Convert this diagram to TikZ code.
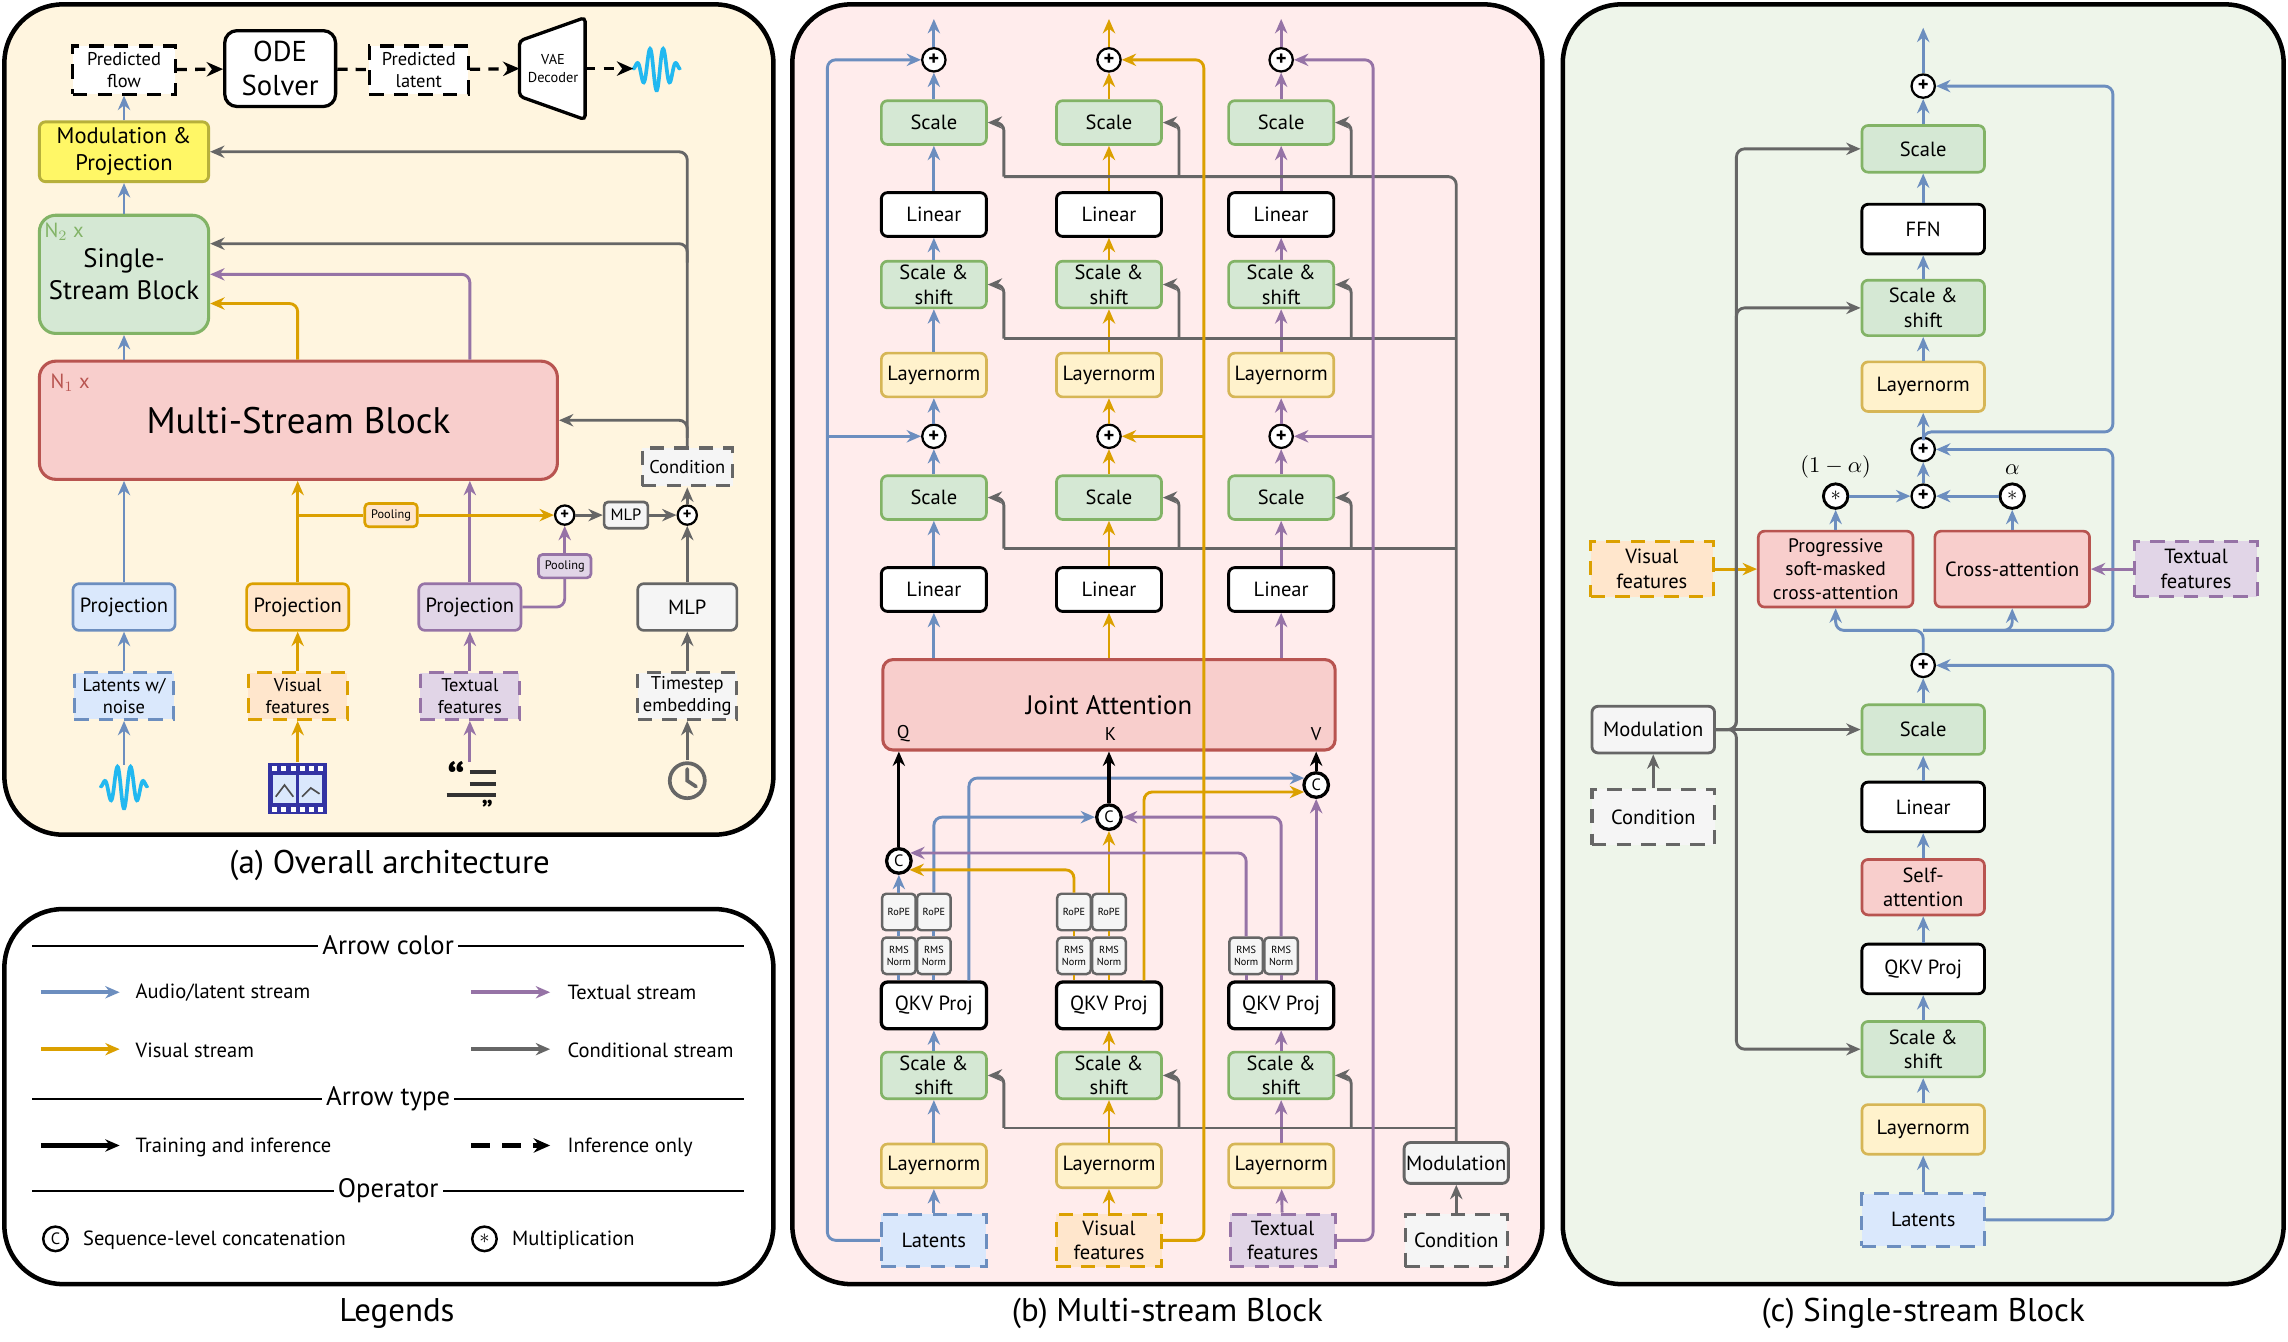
\documentclass[tikz,border=0pt]{standalone}
\usepackage{fontspec}
\setmainfont{PT Sans}
\usetikzlibrary{arrows.meta,calc}
\newcommand\myfs[1]{\fontsize{#1}{\dimexpr #1pt*6/5\relax}\selectfont}
\definecolor{cb}{HTML}{6C8EBF}\definecolor{cbf}{HTML}{DAE8FC}
\definecolor{co}{HTML}{DBA000}\definecolor{cof}{HTML}{FFE6CC}
\definecolor{cp}{HTML}{9673A6}\definecolor{cpf}{HTML}{E1D5E7}
\definecolor{cg}{HTML}{666666}\definecolor{cgf}{HTML}{F5F5F5}
\definecolor{cgr}{HTML}{82B366}\definecolor{cgrf}{HTML}{D5E8D4}
\definecolor{cr}{HTML}{B85450}\definecolor{crf}{HTML}{F8CECC}
\definecolor{cy}{HTML}{D6B656}\definecolor{cyf}{HTML}{FFF2CC}
\definecolor{bgA}{HTML}{FFF5DF}\definecolor{bgB}{HTML}{FFECEC}\definecolor{bgC}{HTML}{EEF5EA}
\definecolor{wavec}{HTML}{22B8F0}
\tikzset{
 box/.style={rounded corners=3pt, line width=1.3pt, align=center, inner sep=1pt, font=\myfs{10}},
 sz/.style 2 args={minimum width=#1*0.025cm, minimum height=#2*0.025cm},
 gb/.style={box, draw=cgr, fill=cgrf},
 wb/.style={box, draw=black, fill=white, line width=1.4pt},
 yb/.style={box, draw=cy, fill=cyf},
 rb/.style={box, draw=cr, fill=crf},
 gyb/.style={box, draw=cg, fill=cgf},
 bb/.style={box, draw=cb, fill=cbf},
 ob/.style={box, draw=co, fill=cof},
 pb/.style={box, draw=cp, fill=cpf},
 dsh/.style={dash pattern=on 7pt off 5pt, line width=1.5pt},
 ar/.style={-{Stealth[length=7pt,width=6pt]}, line width=1.4pt, rounded corners=4pt},
 ln/.style={line width=1.4pt, rounded corners=4pt},
 dar/.style={-{Stealth[length=8pt,width=7pt]}, line width=1.6pt, dash pattern=on 5pt off 4pt},
 pl/.style={circle, draw, line width=1.1pt, fill=white, inner sep=0pt, minimum size=0.4cm, font=\myfs{10}\bfseries},
 cc/.style={circle, draw, line width=1.6pt, fill=white, inner sep=0pt, minimum size=0.42cm, font=\myfs{8}},
 tiny/.style={gyb, sz={23}{25}, font=\myfs{5}, rounded corners=2pt, inner sep=0pt, line width=1.2pt},
 panel/.style={line width=2.2pt, rounded corners=1cm},
 ttl/.style={fill=white, font=\myfs{13}, inner sep=2pt},
 lg/.style={anchor=west, font=\myfs{10}},
}
\begin{document}
\begin{tikzpicture}[x=0.025cm,y=-0.025cm]
\useasboundingbox (0,0) rectangle (1568,919.6);
% panels
\draw[panel, fill=bgA] (3,3) rectangle (530,572);
\draw[panel, fill=white] (3,623) rectangle (530,880);
\draw[panel, fill=bgB] (543,3) rectangle (1057,880);
\draw[panel, fill=bgC] (1071,3) rectangle (1565,880);
\node[font=\myfs{16}] (capa) at (267,593) {(a) Overall architecture};
\node[font=\myfs{16}] (capl) at (272,900) {Legends};
\node[font=\myfs{16}] (capb) at (800,900) {(b) Multi-stream Block};
\node[font=\myfs{16}] (capc) at (1318,900) {(c) Single-stream Block};

% ================= (a)
\node[box, dsh, draw=black, fill=white, rounded corners=0pt, sz={70}{33}, font=\myfs{9}] (pf) at (85,48) {Predicted\\flow};
\node[wb, sz={76}{52}, font=\myfs{14}, line width=1.6pt, rounded corners=6pt] (ode) at (192,47) {ODE\\Solver};
\node[box, dsh, draw=black, fill=white, rounded corners=0pt, sz={68}{33}, font=\myfs{9}] (pla) at (287,48) {Predicted\\latent};
\draw[line width=1.6pt, fill=white, rounded corners=2pt] (356,28) -- (401,12) -- (401,82) -- (356,66) -- cycle;
\node[font=\myfs{7}, align=center] (vae) at (379,47) {VAE\\Decoder};
\coordinate (vaeL) at (356,47); \coordinate (vaeR) at (401,47); \coordinate (wv) at (434,47);
\draw[wavec, line width=1.8pt, line cap=round] plot[domain=0:1, samples=90, smooth] ({450-16+32*\x}, {47-15*sin(\x*1260)*sin(\x*180)});
\draw[dar] (pf) -- (ode);
\draw[line width=1.6pt, dash pattern=on 5pt off 4pt] (ode) -- (pla);
\draw[dar] (pla) -- (vaeL);
\draw[dar] (vaeR) -- (wv);

\node[box, draw=black!15!yellow!80!black, fill=yellow!60, line width=1.4pt, sz={116}{41}, font=\myfs{11}] (mp) at (85,104) {Modulation \&\\Projection};
\node[gb, sz={116}{81}, font=\myfs{13}, rounded corners=8pt, line width=1.5pt] (ss) at (85,188) {Single-\\Stream Block};
\node[text=cgr, font=\myfs{10}] (n2) at (44,159) {N$_2$ x};
\node[rb, sz={355}{81}, font=\myfs{18}, rounded corners=8pt, line width=1.5pt] (ms) at (204.5,288) {Multi-Stream Block};
\node[text=cr, font=\myfs{10}] (n1) at (48,262) {N$_1$ x};
\node[gyb, dsh, rounded corners=0pt, sz={62}{26}, font=\myfs{9}] (cond) at (471,320) {Condition};
\node[bb, sz={70}{32}] (pj1) at (85,416) {Projection};
\node[ob, sz={70}{32}] (pj2) at (204,416) {Projection};
\node[pb, sz={70}{32}] (pj3) at (322,416) {Projection};
\node[gyb, sz={68}{32}] (mlp1) at (471,416) {MLP};
\node[bb, dsh, rounded corners=0pt, sz={68}{32}, font=\myfs{9}] (in1) at (85,477) {Latents w/\\noise};
\node[ob, dsh, rounded corners=0pt, sz={68}{32}, font=\myfs{9}] (in2) at (204,477) {Visual\\features};
\node[pb, dsh, rounded corners=0pt, sz={68}{32}, font=\myfs{9}] (in3) at (322,477) {Textual\\features};
\node[gyb, dsh, rounded corners=0pt, sz={68}{32}, font=\myfs{9}] (in4) at (471,477) {Timestep\\embedding};
\node[ob, sz={36}{16}, font=\myfs{6}, rounded corners=2pt] (pool1) at (268,353) {Pooling};
\node[pb, sz={36}{16}, font=\myfs{6}, rounded corners=2pt] (pool2) at (387,388) {Pooling};
\node[pl, minimum size=0.33cm, font=\myfs{8}\bfseries] (pA) at (387,353) {+};
\node[gyb, sz={30}{18}, font=\myfs{8}, rounded corners=2pt] (mlp2) at (429,353) {MLP};
\node[pl, minimum size=0.33cm, font=\myfs{8}\bfseries] (pB) at (471,353) {+};
% icons
\coordinate (ic1) at (85,524); \coordinate (ic2) at (204,522); \coordinate (ic3) at (322,522); \coordinate (ic4) at (471,521);
\draw[wavec, line width=1.8pt, line cap=round] plot[domain=0:1, samples=90, smooth] ({85-16+32*\x}, {539-15*sin(\x*1260)*sin(\x*180)});
\fill[blue!55!black!80] (184,523) rectangle (224,558);
\foreach \i in {0,...,5}{\fill[white] (186.5+\i*6.3,525) rectangle ++(3.5,3.5); \fill[white] (186.5+\i*6.3,553) rectangle ++(3.5,3.5);}
\fill[cbf] (187,531) rectangle (203,550); \fill[cbf] (205,531) rectangle (221,550);
\draw[black!70, line width=0.8pt] (189,546) -- (195,538) -- (201,546) (207,546) -- (213,540) -- (219,544);
\node[font=\myfs{22}\bfseries, inner sep=0pt] (qt) at (313,534) {“};
\draw[black!80, line width=2pt] (322,529) -- (340,529) (322,537) -- (340,537) (306,545) -- (340,545);
\node[font=\myfs{14}\bfseries, inner sep=0pt] (qt2) at (334,555) {”};
\draw[cg, line width=1.8pt] (471,535) circle (0.3cm);
\draw[cg, line width=1.8pt, line cap=round] (471,527) -- (471,535) -- (477,539);
% arrows (a)
\draw[ar,cb] (mp) -- (pf);
\draw[ar,cb] (ss) -- (mp);
\draw[ar,cb] (ss |- ms.north) -- (ss);
\draw[ar,co] (pj2 |- ms.north) |- ($(ss.east)+(0,20)$);
\draw[ar,cp] (pj3 |- ms.north) |- (ss.east);
\draw[ar,cg] (cond) |- (mp.east);
\draw[ar,cg] (471,180) |- ($(ss.east)+(0,-21)$);
\draw[ar,cg] (471,300) |- (ms.east);
\draw[ar,cb] (pj1) -- (pj1 |- ms.south);
\draw[ar,co] (pj2) -- (pj2 |- ms.south);
\draw[ar,cp] (pj3) -- (pj3 |- ms.south);
\draw[ln,co] (pj2 |- pool1) -- (pool1);
\draw[ar,co] (pool1) -- (pA);
\draw[ln,cp] (pj3.east) -| (pool2);
\draw[ar,cp] (pool2) -- (pA);
\draw[ar,cg] (pA) -- (mlp2);
\draw[ar,cg] (mlp2) -- (pB);
\draw[ar,cg] (mlp1) -- (pB);
\draw[ar,cg] (pB) -- (cond);
\draw[ar,cb] (in1) -- (pj1);
\draw[ar,co] (in2) -- (pj2);
\draw[ar,cp] (in3) -- (pj3);
\draw[ar,cg] (in4) -- (mlp1);
\draw[ar,cb] (ic1) -- (in1);
\draw[ar,co] (ic2) -- (in2);
\draw[ar,cp] (ic3) -- (in3);
\draw[ar,cg] (ic4) -- (in4);

% ================= legend
\foreach \yy/\tt in {648/Arrow color, 753/Arrow type, 816/Operator}{
 \draw[line width=1pt] (22,\yy) -- (510,\yy);
 \node[ttl] at (266,\yy) {\tt};}
\coordinate (la1) at (28,680); \coordinate (lb1) at (82,680);
\draw[ar,cb,line width=2pt] (la1) -- (lb1); \node[lg] at (88,680) {Audio/latent stream};
\coordinate (la2) at (323,680); \coordinate (lb2) at (377,680);
\draw[ar,cp,line width=2pt] (la2) -- (lb2); \node[lg] at (384,680) {Textual stream};
\coordinate (la3) at (28,719); \coordinate (lb3) at (82,719);
\draw[ar,co,line width=2pt] (la3) -- (lb3); \node[lg] at (88,720) {Visual stream};
\coordinate (la4) at (323,719); \coordinate (lb4) at (377,719);
\draw[ar,cg,line width=2pt] (la4) -- (lb4); \node[lg] at (384,720) {Conditional stream};
\coordinate (la5) at (28,785); \coordinate (lb5) at (82,785);
\draw[ar,black,line width=2pt] (la5) -- (lb5); \node[lg] at (88,786) {Training and inference};
\coordinate (la6) at (323,785); \coordinate (lb6) at (377,785);
\draw[dar,line width=2pt, dash pattern=on 9pt off 6pt] (la6) -- (lb6); \node[lg] at (384,786) {Inference only};
\node[cc, line width=1.2pt] (lc) at (38,849) {C}; \node[lg] at (52,850) {Sequence-level concatenation};
\node[cc, line width=1.2pt, font=\myfs{10}] (lm) at (332,849) {$\ast$}; \node[lg] at (346,850) {Multiplication};

% ================= (b)
\foreach \n/\x/\cl in {a/640/cb, b/760/co, c/878/cp}{
 \node[pl] (t\n) at (\x,41) {+};
 \node[gb, sz={72}{30}] (sA\n) at (\x,84) {Scale};
 \node[wb, sz={72}{30}] (lA\n) at (\x,147) {Linear};
 \node[gb, sz={72}{32}] (hA\n) at (\x,195) {Scale \&\\shift};
 \node[yb, sz={72}{30}] (nA\n) at (\x,257) {Layernorm};
 \node[pl] (p\n) at (\x,299) {+};
 \node[gb, sz={72}{30}] (sB\n) at (\x,341) {Scale};
 \node[wb, sz={72}{30}] (lB\n) at (\x,404) {Linear};
 \node[wb, sz={72}{32}, line width=1.6pt] (q\n) at (\x,689) {QKV Proj};
 \node[gb, sz={72}{32}] (hB\n) at (\x,737) {Scale \&\\shift};
 \node[yb, sz={72}{30}] (nB\n) at (\x,799) {Layernorm};
 \draw[ar,color=\cl] (nB\n) -- (hB\n);
 \draw[ar,color=\cl] (hB\n) -- (q\n);
 \draw[ar,color=\cl] (lB\n) -- (sB\n);
 \draw[ar,color=\cl] (sB\n) -- (p\n);
 \draw[ar,color=\cl] (p\n) -- (nA\n);
 \draw[ar,color=\cl] (nA\n) -- (hA\n);
 \draw[ar,color=\cl] (hA\n) -- (lA\n);
 \draw[ar,color=\cl] (lA\n) -- (sA\n);
 \draw[ar,color=\cl] (sA\n) -- (t\n);
 \draw[ar,color=\cl] (t\n) -- ++(0,-28);
 \draw[ar,cg] (\x+48,121) |- (sA\n);
 \draw[ar,cg] (\x+48,232) |- (hA\n);
 \draw[ar,cg] (\x+48,376) |- (sB\n);
 \draw[ar,cg] (\x+48,773) |- (hB\n);
}
\node[rb, sz={310}{62}, font=\myfs{13}, line width=1.5pt, rounded corners=5pt] (ja) at (760,483) {Joint Attention};
\node[font=\myfs{9}] (jq) at (619,503) {Q};
\node[font=\myfs{9}] (jk) at (761,503) {K};
\node[font=\myfs{9}] (jv) at (902,503) {V};
\draw[ar,cb] (lBa |- ja.north) -- (lBa);
\draw[ar,co] (lBb |- ja.north) -- (lBb);
\draw[ar,cp] (lBc |- ja.north) -- (lBc);
\node[bb, dsh, rounded corners=0pt, sz={72}{36}] (lat) at (640,850) {Latents};
\node[ob, dsh, rounded corners=0pt, sz={72}{36}] (vis) at (760,850) {Visual\\features};
\node[pb, dsh, rounded corners=0pt, sz={72}{36}] (txt) at (879,850) {Textual\\features};
\node[gyb, dsh, rounded corners=0pt, sz={70}{36}] (cnd) at (998,850) {Condition};
\node[gyb, sz={71}{28}, line width=1.4pt] (mod) at (998,797) {Modulation};
\draw[ar,cb] (lat) -- (nBa);
\draw[ar,co] (vis) -- (nBb);
\draw[ar,cp] (txt) -- (nBc);
\draw[ar,cg] (cnd) -- (mod);
\draw[ln,cg] (mod.north) -- (998,121) -- (688,121);
\draw[ln,cg] (998,232) -- (688,232);
\draw[ln,cg] (998,376) -- (688,376);
\draw[ln,cg] (998,773) -- (688,773);
% rms / rope
\node[tiny] (rma1) at (616,655) {RMS\\Norm};
\node[tiny] (rma2) at (640,655) {RMS\\Norm};
\node[tiny] (rpa1) at (616,625) {RoPE};
\node[tiny] (rpa2) at (640,625) {RoPE};
\node[tiny] (rmb1) at (736,655) {RMS\\Norm};
\node[tiny] (rmb2) at (760,655) {RMS\\Norm};
\node[tiny] (rpb1) at (736,625) {RoPE};
\node[tiny] (rpb2) at (760,625) {RoPE};
\node[tiny] (rmc1) at (854,655) {RMS\\Norm};
\node[tiny] (rmc2) at (878,655) {RMS\\Norm};
\node[cc] (cq) at (616,590) {C};
\node[cc] (ck) at (760,560) {C};
\node[cc] (cv) at (902,538) {C};
\draw[ln,cb] (qa.north -| rma1) -- (rma1); \draw[ln,cb] (rma1) -- (rpa1);
\draw[ln,cb] (qa.north -| rma2) -- (rma2); \draw[ln,cb] (rma2) -- (rpa2);
\draw[ln,co] (qb.north -| rmb1) -- (rmb1); \draw[ln,co] (rmb1) -- (rpb1);
\draw[ln,co] (qb.north -| rmb2) -- (rmb2); \draw[ln,co] (rmb2) -- (rpb2);
\draw[ln,cp] (qc.north -| rmc1) -- (rmc1);
\draw[ln,cp] (qc.north -| rmc2) -- (rmc2);
\draw[ar,cb] (rpa1) -- (cq);
\draw[ar,cb] (rpa2.north) |- (ck.west);
\draw[ar,cb] ($(qa.north)+(24,0)$) |- (cv.150);
\draw[ar,co] (rpb1.north) |- (cq.-40);
\draw[ar,co] (rpb2) -- (ck);
\draw[ar,co] ($(qb.north)+(24,0)$) |- (cv.210);
\draw[ar,cp] (rmc1.north) |- (cq.35);
\draw[ar,cp] (rmc2.north) |- (ck.east);
\draw[ar,cp] ($(qc.north)+(24,0)$) -- (cv.south);
\draw[ar,black,line width=1.5pt] (cq) -- (cq |- ja.south);
\draw[ar,black,line width=1.5pt] (ck) -- (ck |- ja.south);
\draw[ar,black,line width=1.5pt] (cv) -- (cv |- ja.south);
% residuals
\draw[ar,cb] (lat.west) -- (567,850) -- (567,41) -- (ta);
\draw[ar,cb] (567,299) -- (pa);
\draw[ar,co] (vis.east) -- (825,850) -- (825,41) -- (tb);
\draw[ar,co] (825,299) -- (pb);
\draw[ar,cp] (txt.east) -- (941,850) -- (941,41) -- (tc);
\draw[ar,cp] (941,299) -- (pc);

% ================= (c)
\node[pl] (ct) at (1318,59) {+};
\node[gb, sz={84}{32}] (cs1) at (1318,102) {Scale};
\node[wb, sz={84}{34}] (cffn) at (1318,157) {FFN};
\node[gb, sz={84}{38}] (css1) at (1318,211) {Scale \&\\shift};
\node[yb, sz={84}{34}] (cln1) at (1318,265) {Layernorm};
\node[pl] (cp1) at (1318,308) {+};
\node[pl] (cp2) at (1318,340) {+};
\node[cc, line width=1.4pt, font=\myfs{10}] (m1) at (1258,340) {$\ast$};
\node[cc, line width=1.4pt, font=\myfs{10}] (m2) at (1379,340) {$\ast$};
\node[font=\myfs{11}] (al1) at (1258,320) {$(1-\alpha)$};
\node[font=\myfs{11}] (al2) at (1379,322) {$\alpha$};
\node[rb, sz={106}{52}, font=\myfs{9.5}, inner sep=0pt] (psa) at (1258,390) {Progressive\\soft-masked\\cross-attention};
\node[rb, sz={106}{52}] (cca) at (1379,390) {Cross-attention};
\node[pl] (cp3) at (1318,456) {+};
\node[gb, sz={84}{34}] (cs2) at (1318,500) {Scale};
\node[wb, sz={84}{34}] (clin) at (1318,553) {Linear};
\node[rb, sz={84}{38}] (csa) at (1318,608) {Self-\\attention};
\node[wb, sz={84}{34}] (cqkv) at (1318,664) {QKV Proj};
\node[gb, sz={84}{38}] (css2) at (1318,719) {Scale \&\\shift};
\node[yb, sz={84}{34}] (cln2) at (1318,774) {Layernorm};
\node[bb, dsh, rounded corners=0pt, sz={84}{36}] (clat) at (1318,836) {Latents};
\node[ob, dsh, rounded corners=0pt, sz={84}{38}] (cvis) at (1132,390) {Visual\\features};
\node[pb, dsh, rounded corners=0pt, sz={84}{38}] (ctxt) at (1505,390) {Textual\\features};
\node[gyb, sz={84}{32}, line width=1.4pt] (cmod) at (1133,500) {Modulation};
\node[gyb, dsh, rounded corners=0pt, sz={84}{38}] (ccond) at (1133,560) {Condition};
\draw[ar,cb] (clat) -- (cln2);
\draw[ar,cb] (cln2) -- (css2);
\draw[ar,cb] (css2) -- (cqkv);
\draw[ar,cb] (cqkv) -- (csa);
\draw[ar,cb] (csa) -- (clin);
\draw[ar,cb] (clin) -- (cs2);
\draw[ar,cb] (cs2) -- (cp3);
\draw[ar,cb] (cp3.north) -- (1318,432) -| (psa.south);
\draw[ar,cb] (1318,432) -| (cca.south);
\draw[ar,cb] (1318,432) -- (1448,432) -- (1448,308) -- (cp1);
\draw[ar,cb] (clat.east) -- (1448,836) -- (1448,456) -- (cp3);
\draw[ar,cb] (psa) -- (m1);
\draw[ar,cb] (cca) -- (m2);
\draw[ar,cb] (m1) -- (cp2);
\draw[ar,cb] (m2) -- (cp2);
\draw[ar,cb] (cp2) -- (cp1);
\draw[ar,cb] (cp1) -- (cln1);
\draw[ar,cb] (cln1) -- (css1);
\draw[ar,cb] (css1) -- (cffn);
\draw[ar,cb] (cffn) -- (cs1);
\draw[ar,cb] (cs1) -- (ct);
\draw[ar,cb] (ct) -- ++(0,-40);
\draw[ar,cb] (cp1.north) -- (1318,296) -- (1448,296) -- (1448,59) -- (ct);
\draw[ar,co] (cvis) -- (psa);
\draw[ar,cp] (ctxt) -- (cca);
\draw[ar,cg] (ccond) -- (cmod);
\draw[ar,cg] (cmod) -- (cs2);
\draw[ar,cg] (cmod.east) -- ++(14,0) |- (cs1);
\draw[ar,cg] (cmod.east) -- ++(14,0) |- (css1);
\draw[ar,cg] (cmod.east) -- ++(14,0) |- (css2);
\end{tikzpicture}
\end{document}
